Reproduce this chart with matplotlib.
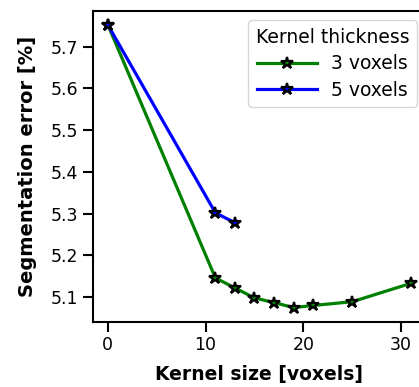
import matplotlib
matplotlib.use("Agg")
import matplotlib.pyplot as plt

kernel_sizes_3 = [0, 11, 13, 15, 17, 19, 21, 25, 31]
error_3 = [5.752, 5.146, 5.122, 5.098, 5.087, 5.075, 5.080, 5.089, 5.133]
kernel_sizes_5 = [0, 11, 13]
error_5 = [5.752, 5.302, 5.278]
labels = ["3 voxels", "5 voxels"]
colors = ["green", "blue"]

W, H = 419, 387
fig = plt.figure(figsize=(W / 100, H / 100), dpi=100)
left, right, top, bottom = 92.7, 426.0, 10.7, 321.7
ax = fig.add_axes([left / W, 1 - bottom / H, (right - left) / W, (bottom - top) / H])

for xs, ys, lab, c in zip([kernel_sizes_3, kernel_sizes_5], [error_3, error_5], labels, colors):
    ax.plot(xs, ys, color=c, lw=2.3, marker="*", markersize=9,
            markeredgecolor="black", markeredgewidth=1.6, markerfacecolor=c, label=lab)

ax.set_xticks([0, 10, 20, 30])
ax.set_yticks([5.1, 5.2, 5.3, 5.4, 5.5, 5.6, 5.7])
ax.tick_params(labelsize=12.5, length=7, width=1.5)
for s in ax.spines.values():
    s.set_linewidth(1.5)
ax.set_xlabel("Kernel size [voxels]", fontsize=13.5, fontweight="bold", labelpad=8)
ax.set_ylabel("Segmentation error [%]", fontsize=14, fontweight="bold", labelpad=10)
ax.legend(title="Kernel thickness", loc="upper right", fontsize=13.5, title_fontsize=13.5,
          handlelength=3.2, handletextpad=0.75, labelspacing=0.4)

fig.savefig("out.png", dpi=100)
